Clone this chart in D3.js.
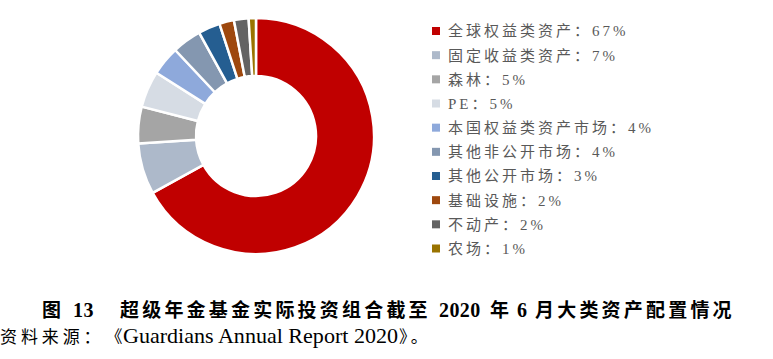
<!DOCTYPE html>
<html><head><meta charset="utf-8">
<script src="https://cdn.jsdelivr.net/npm/d3@7"></script>
<style>body{margin:0;background:#fff;} svg{display:block;}</style>
</head><body>
<svg id="c" width="773" height="359"></svg>
<script>
const categories = ["全球权益类资产","固定收益类资产","森林","PE","本国权益类资产市场","其他非公开市场","其他公开市场","基础设施","不动产","农场"];
const values = [67,7,5,5,4,4,3,2,2,1];
const colors = ["#C00000","#ADB9CA","#A5A5A5","#D6DCE4","#8EA9DB","#8497B0","#255E91","#9E480E","#636363","#997300"];
const titleParts = [["图",42,true],["13",73,false],["超级年金基金实际投资组合截至",120,true],["2020",439,false],["年",490,true],["6",517,false],["月大类资产配置情况",535,true]];
const sourceParts = [["资料来源：",0,"cjk"],["《",105.5,"cjk"],["Guardians Annual Report 2020",123,"latin"],["》。",399,"cjk"]];

const svg = d3.select("#c");
const FONT = "'Liberation Serif','Noto Sans CJK SC',serif";
const cx = 256, cy = 136, R = 118, r = 60;
const pie = d3.pie().sort(null).value(d => d.v);
const arc = d3.arc().innerRadius(r).outerRadius(R);
const data = categories.map((c,i)=>({c, v: values[i], col: colors[i]}));
svg.append("g").attr("transform",`translate(${cx},${cy})`)
  .selectAll("path").data(pie(data)).join("path")
  .attr("d", arc).attr("fill", d=>d.data.col)
  .attr("stroke","#fff").attr("stroke-width",2.5).attr("stroke-linejoin","round");

const y = d3.scalePoint().domain(categories).range([31, 248.5]);
const lg = svg.append("g");
lg.selectAll("rect").data(data).join("rect")
  .attr("x",432).attr("y",d=>y(d.c)-4).attr("width",8).attr("height",8)
  .attr("fill",d=>d.col);
lg.selectAll("text").data(data).join("text")
  .attr("x",448).attr("y",d=>y(d.c)).attr("dy","0.36em")
  .attr("font-family",FONT).attr("letter-spacing",3)
  .attr("font-size",15).attr("fill","#595959")
  .text(d=>`${d.c}：${d.v}%`);

svg.append("g").selectAll("text").data(titleParts).join("text")
  .attr("x",d=>d[1]).attr("y",317)
  .attr("font-family",FONT).attr("font-weight","bold")
  .attr("font-size",d=>d[2]?19:20).attr("letter-spacing",d=>d[2]?3.2:0.4)
  .attr("fill","#000").text(d=>d[0]);

svg.append("g").selectAll("text").data(sourceParts).join("text")
  .attr("x",d=>d[1]).attr("y",343)
  .attr("font-family",FONT)
  .attr("font-size",d=>d[2]==="cjk"?17:21)
  .attr("letter-spacing",(d,i)=>i===0?3.9:(i===1?0:(d[2]==="cjk"?3.2:0)))
  .each(function(d){ if(d[2]==="latin") d3.select(this).attr("textLength",275).attr("lengthAdjust","spacingAndGlyphs"); })
  .attr("fill","#000").text(d=>d[0]);
</script>
</body></html>
